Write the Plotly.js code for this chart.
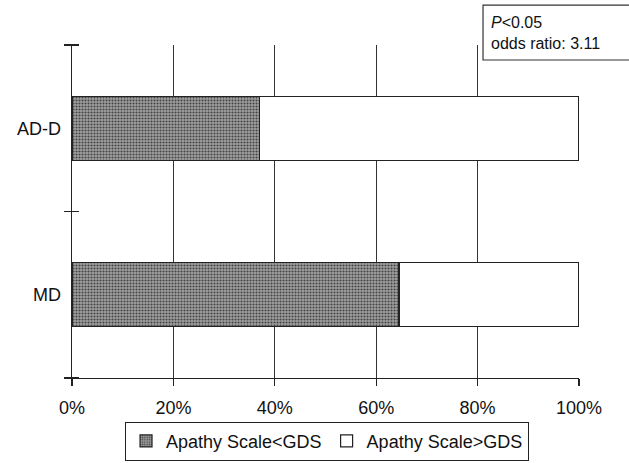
<!DOCTYPE html>
<html>
<head>
<meta charset="utf-8">
<script src="https://cdn.plot.ly/plotly-3.0.1.min.js"></script>
<style>html,body{margin:0;padding:0;background:#fff;}#chart{width:629px;height:463px;}</style>
</head>
<body>
<div id="chart"></div>
<script>
// Data
const categories = ['MD', 'AD-D'];            // bottom to top
const apathyLessGDS = [64.5, 37];             // % Apathy Scale<GDS
const apathyMoreGDS = [35.5, 63];             // % Apathy Scale>GDS
const seriesNames = ['Apathy Scale<GDS', 'Apathy Scale>GDS'];
const xTickVals = [0, 20, 40, 60, 80, 100];
const xTickText = ['0%', '20%', '40%', '60%', '80%', '100%'];
const gridVals = [20, 40, 60, 80];
const noteText = '<i>P</i><0.05<br>odds ratio: 3.11';

const FONT = 'Liberation Sans, Arial, sans-serif';

const traces = [
  {
    type: 'bar', orientation: 'h', name: seriesNames[0],
    y: categories, x: apathyLessGDS,
    marker: {
      color: '#8a8a8a',
      line: {color: '#222', width: 1.2},
      pattern: {shape: '.', bgcolor: '#a0a0a0', fgcolor: '#444', size: 3, solidity: 0.4}
    },
    hoverinfo: 'skip'
  },
  {
    type: 'bar', orientation: 'h', name: seriesNames[1],
    y: categories, x: apathyMoreGDS,
    marker: {color: '#ffffff', line: {color: '#222', width: 1.2}},
    hoverinfo: 'skip'
  },
  {
    // helper trace so the overlay axes (grid lines / crossing ticks) are drawn
    type: 'scatter', mode: 'markers', xaxis: 'x2', yaxis: 'y2',
    x: [0, 0], y: categories, marker: {opacity: 0, size: 1},
    showlegend: false, hoverinfo: 'skip'
  }
];

const layout = {
  width: 629, height: 463,
  margin: {l: 72, r: 50, t: 45, b: 85, autoexpand: false},
  paper_bgcolor: '#fff', plot_bgcolor: '#fff',
  font: {family: FONT, size: 18, color: '#111'},
  barmode: 'stack',
  bargap: 0.615,
  xaxis: {
    range: [0, 100], tickmode: 'array', tickvals: xTickVals, ticktext: xTickText,
    showgrid: false, zeroline: false,
    showline: true, linecolor: '#222', linewidth: 1.3,
    ticks: 'outside', ticklen: 7, tickwidth: 1.2, tickcolor: '#222',
    ticklabelstandoff: 6,
    tickfont: {family: FONT, size: 18, color: '#111'}, fixedrange: true
  },
  xaxis2: {
    overlaying: 'x', anchor: 'y2', range: [0, 100], tickmode: 'array', tickvals: gridVals,
    showgrid: true, gridcolor: '#333', gridwidth: 1.1,
    showticklabels: false, ticks: '', showline: false, zeroline: false
  },
  yaxis: {
    type: 'category', categoryorder: 'array', categoryarray: categories,
    range: [-0.5, 1.5],
    showline: true, linecolor: '#222', linewidth: 1.3,
    ticks: 'outside', ticklen: 7, tickwidth: 1.2, tickcolor: '#222',
    tickson: 'boundaries', ticklabelstandoff: 6,
    showgrid: false, zeroline: false,
    tickfont: {family: FONT, size: 18, color: '#111'}
  },
  yaxis2: {
    type: 'category', categoryorder: 'array', categoryarray: categories,
    overlaying: 'y', anchor: 'free', position: 0.0138, side: 'left', range: [-0.5, 1.5],
    ticks: 'outside', ticklen: 14, tickwidth: 1.2, tickcolor: '#222',
    tickson: 'boundaries', showticklabels: true,
    tickfont: {size: 1, color: 'rgba(0,0,0,0)'},
    showgrid: false, showline: false, zeroline: false
  },
  showlegend: true,
  legend: {
    orientation: 'h', x: 0.503, xanchor: 'center', y: -0.19, yanchor: 'middle',
    bordercolor: '#222', borderwidth: 1, bgcolor: '#fff',
    font: {family: FONT, size: 18, color: '#111'},
    itemwidth: 30, tracegroupgap: 0, traceorder: 'normal'
  },
  shapes: [{
    type: 'rect', xref: 'paper', yref: 'paper',
    x0: 0.8107, x1: 1.11, y0: 0.955, y1: 1.12,
    line: {color: '#333', width: 1.2}, fillcolor: 'rgba(0,0,0,0)'
  }],
  annotations: [{
    xref: 'paper', yref: 'paper', x: 0.822, y: 1.036,
    xanchor: 'left', yanchor: 'middle', align: 'left', showarrow: false,
    text: noteText, font: {family: FONT, size: 16, color: '#111'}
  }]
};

Plotly.newPlot('chart', traces, layout, {displayModeBar: false, staticPlot: true});
</script>
</body>
</html>
